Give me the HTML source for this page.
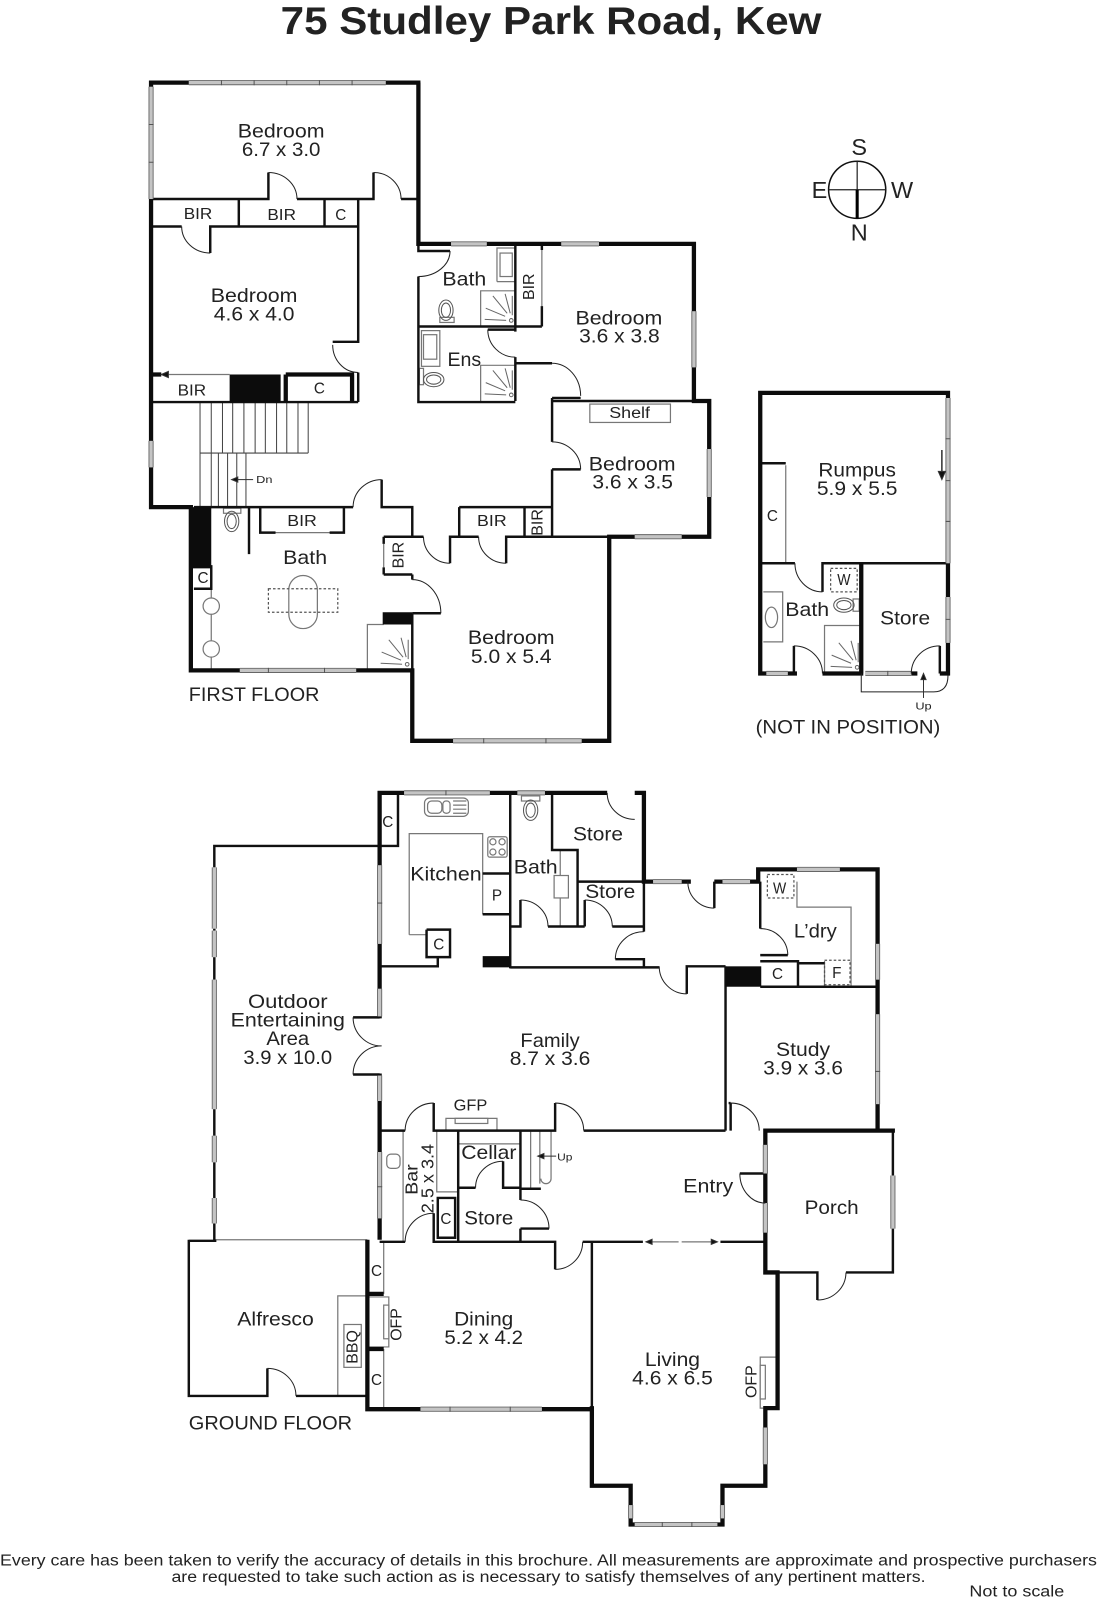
<!DOCTYPE html>
<html><head><meta charset="utf-8"><style>
html,body{margin:0;padding:0;background:#fff}
svg{display:block}
text{font-family:"Liberation Sans",sans-serif;fill:#222;dominant-baseline:central;text-anchor:middle;font-size:19px}
.s{font-size:15px}.t{font-size:10px}
.k{fill:none;stroke:#0c0c0c;stroke-width:4.2}
.m{fill:none;stroke:#111;stroke-width:2.4}
.d{fill:none;stroke:#222;stroke-width:1}
.g{fill:none;stroke:#777;stroke-width:1.2}
.st{fill:none;stroke:#444;stroke-width:1}
.ds{fill:none;stroke:#555;stroke-width:1.2;stroke-dasharray:2.5 2}
</style></head><body>
<svg width="1097" height="1600" viewBox="0 0 1075 1568" xmlns="http://www.w3.org/2000/svg">
<defs>
<g id="sh" fill="none" stroke="#666" stroke-width="1"><path d="M25 29L4 28M24 25L5 17M26 22L12 5M29 22L24 3M31 24V5"/><circle cx="30" cy="29" r="1.8"/></g>
<g id="to" fill="none" stroke="#555" stroke-width="1"><ellipse cx="0" cy="0" rx="7" ry="10"/><ellipse cx="0" cy="0" rx="4.5" ry="7"/></g>
<path id="win" d="M185 81H378M148 85V195M148 432V458M442 239H477M550 239H587M680 305V360M695 440V487M622 526H668M444 726H570M235 657H349M929 390V552M929 585V630M751 660H772M848 660H893M396 777H480M507 777H534M640 864H668M708 864H735M781 852H823M860 925V960M860 994V1082M372 848V925M372 969V996M372 1054V1079M372 1129V1194M210 850V910M210 912V938M210 960V1087M210 1113V1139M210 1174V1199M750 1122V1150M750 1179V1208M875 1152V1204M412 1381H531M750 1399V1435M622 1494H703M618 1475V1488M708 1475V1488"/>
</defs>
<rect width="1075" height="1568" fill="#fff"/>

<text x="540" y="21" textLength="530" lengthAdjust="spacingAndGlyphs" style="font-size:38px;font-weight:bold">75 Studley Park Road, Kew</text>

<!-- stairs -->
<path class="st" d="M196 394V497M207 394V497M218 394V444M228 394V444M239 394V444M250 394V444M260 394V444M271 394V444M281 394V444M292 394V444M302 394V444M196 444H302M214 444V497M223 444V497M232 444V497M241 444V497"/>

<!-- gray fixtures -->
<g class="g">
<path d="M487 276V243H505M487 276H505M471 320V285H505M471 393V358H505"/>
<rect x="490" y="248" width="12" height="23"/>
<rect x="413" y="324" width="18" height="35"/><rect x="415" y="328" width="13" height="24"/>
<path d="M531 245V300M376 533V556M541 499V524M158 367H225"/>
<rect x="578" y="396" width="79" height="18"/>
<path d="M255 522H338M207 577V657M360 657V612H376"/>
<circle cx="207" cy="594" r="8" fill="#fff"/><circle cx="207" cy="636" r="8" fill="#fff"/>
<rect x="283" y="564" width="28" height="52" rx="14"/>
<path d="M770 456V552M808 660V613H844M748 580H767V629H748"/><ellipse cx="756" cy="605" rx="6" ry="10"/>
<path d="M401 916V817H473V856M401 916H418"/>
<path d="M473 856V896"/>
<rect x="416" y="782" width="43" height="18" rx="5"/><rect x="419" y="785" width="14" height="12" rx="4"/><rect x="434" y="785" width="7" height="12" rx="3"/><path d="M444 785H457M444 789H457M444 793H457M444 797H457"/>
<rect x="478" y="820" width="19" height="20" rx="2"/><circle cx="483" cy="825" r="3"/><circle cx="492" cy="825" r="3"/><circle cx="483" cy="835" r="3"/><circle cx="492" cy="835" r="3"/>
<path d="M549 833V908M781 864V889H834V967M808 944V967"/><rect x="543" y="858" width="14" height="22" fill="#fff"/>
<path d="M395 1108V1217M428 1108V1168H449M449 1121H510M520 1108V1165M529 1108V1160M540 1108V1155a5 5 0 0 1 -10 0"/>
<rect x="379" y="1131" width="13" height="14" rx="4"/>
<path d="M210 1215H360M331 1368V1270H360M376 1218V1268M376 1322V1380"/>
<rect x="337" y="1298" width="17" height="42"/>
<path d="M361 1271H381V1320H361"/><rect x="376" y="1279" width="5" height="33" fill="#fff"/>
<path d="M762 1330H745V1380H762"/><rect x="745" y="1338" width="5" height="33" fill="#fff"/>
<path d="M437 1108V1096H487V1108"/><rect x="446" y="1096" width="32" height="5"/>
<path d="M633 1217H665M668 1217H700"/>
<rect x="219" y="498" width="17" height="5"/>
<rect x="511" y="780" width="18" height="5"/>
<rect x="836" y="587" width="6" height="12"/>
<rect x="431" y="311" width="14" height="5"/>
<rect x="411" y="361" width="4" height="16"/>
</g>
<use href="#sh" x="471" y="285"/><use href="#sh" x="471" y="358"/><use href="#sh" x="369" y="622"/><use href="#sh" x="810" y="625"/>
<use href="#to" x="437" y="304"/><use href="#to" x="227" y="511"/><use href="#to" x="520" y="794"/>
<g transform="translate(827 593) rotate(90)"><use href="#to"/></g>
<g transform="translate(425 372) rotate(90)"><use href="#to"/></g>

<!-- dashed -->
<rect class="ds" x="263" y="577" width="68" height="23"/><rect class="ds" x="814" y="557" width="26" height="23"/><rect class="ds" x="752" y="857" width="26" height="23"/><rect class="ds" x="808" y="941" width="25" height="24"/>

<!-- medium walls -->
<path class="m" d="M148 195H263V169M291 195H366V169M393 195H410M234 195V222M318 195V222M351 195V335H326M351 365V394M148 222H178M206 248V222H351M148 394H351
M410 239V246H441M410 271V394H505M410 320H531M505 239V325M478 323H505M505 350V393M531 239V245M531 300V320
M505 356H541M541 390H569M541 390V433M541 393H680M541 460H569M541 460V526
M190 497H346M374 470V497H404V526M404 563V568M404 601H432M404 601V657M244 497V543
M255 497V522H270M323 522H337V497M376 526H404M376 563H404M376 526V533M376 556V563
M450 497H541M450 497V526M514 497V526M404 526H415M441 552V526H469M496 552V526H597M190 555H207V577H190M207 555V577
M770 454H745M745 552H779M806 580V552H929M778 633V660M921 633V660
M372 829H210V850M210 910V912M210 938V960M210 1087V1113M210 1139V1174M210 1199V1215M390 779V829H372M473 856H500M473 896H500M500 777V949M541 777V833H566V908M500 908H510V882M537 908H573M573 882V908M600 908H631M566 864H631M631 864V913M603 940H631V949M500 948H646M673 974V947H711M711 947V1108M700 864V890
M418 911V938H441V911H418M372 947H429V938
M745 864V910M745 936H772M745 942H782V967M782 944H808M745 967H860
M716 1081V1108M714 1081H716M372 1108H397M425 1081V1108H544V1081M572 1108H711
M449 1108V1217M510 1108V1176M510 1204H538M510 1204V1217M449 1164H466M493 1138V1164H510M510 1165H530M372 1217H397M425 1189V1217H544V1244M571 1217H630M706 1217H750M580 1217V1380M429 1174H446V1213H429ZM185 1215V1368H262V1341M290 1368H360M185 1216H212
M875 1108V1247H829M801 1274V1247H752M725 1150H750M346 997H372M346 1053H372"/>

<!-- thick walls -->
<path class="k" d="M146 81H412M410 81V241M408 239H682M680 237V395M678 393H697M695 391V528M697 526H595M597 524V728M599 726H402M404 728V655M406 657H185M187 659V495M189 497H146M148 499V79
M743 385H931M745 383V662M929 383V662M743 660H781M806 660H846M844 552V660M893 660H899M921 660H931
M370 777H595M622 777H633M631 775V866M629 864H677M700 864H745M743 866V850M741 852H862M860 850V1110
M372 775V998M372 1052V1215M748 1108H877M750 1106V1249M748 1247H764M762 1245V1382M764 1380H748M750 1378V1458M752 1456H708M708 1454V1496M710 1494H616M618 1496V1454M620 1456H578M580 1458V1378M582 1381H358M360 1383V1215M358 1268H376M358 1322H376"/>
<rect x="225" y="367" width="50" height="27" fill="#0c0c0c"/>
<path class="k" d="M280 367V394M345 367V394M158 367H148M280 367H347"/>
<rect x="187" y="497" width="20" height="60" fill="#0c0c0c"/>
<rect x="375" y="600" width="29" height="12" fill="#0c0c0c"/>
<rect x="473" y="937" width="27" height="11" fill="#0c0c0c"/>
<rect x="711" y="947" width="35" height="20" fill="#0c0c0c"/>

<!-- windows -->
<use href="#win" fill="none" stroke="#666" stroke-width="5"/>
<use href="#win" fill="none" stroke="#c4c4c4" stroke-width="3.2"/>
<path fill="none" stroke="#555" stroke-width="1" d="M217 78.5V83.5M249 78.5V83.5M281 78.5V83.5M313 78.5V83.5M345 78.5V83.5M145.5 122H150.5M145.5 159H150.5M474 723.5V728.5M535 723.5V728.5M263 654.5V659.5M318 654.5V659.5M441 1378.5V1383.5M500 1378.5V1383.5M649 1491.5V1496.5M678 1491.5V1496.5M926.5 430H931.5M926.5 471H931.5M926.5 511H931.5M926.5 607H931.5M870 657.5V662.5M437 774.5V779.5M369.5 885H374.5M369.5 1163H374.5M857.5 1050H862.5"/>

<!-- door arcs -->
<g class="d">
<path d="M263 169A28 26 0 0 1 291 195M366 169A27 26 0 0 1 393 195M206 248A28 26 0 0 1 178 222M326 338A25 27 0 0 0 351 365M441 246A31 25 0 0 1 410 271M478 323A27 27 0 0 0 505 350M541 356A28 32 0 0 1 569 388M541 433A28 27 0 0 1 569 460M346 497A28 27 0 0 1 374 470M441 552A26 26 0 0 1 415 526M496 552A27 26 0 0 1 469 526M404 568A28 33 0 0 1 432 601"/>
<path d="M779 552A27 28 0 0 0 806 580M778 633A28 27 0 0 1 806 660M893 660A28 27 0 0 1 921 633"/>
<path d="M844 660V678H915Q929 678 929 662"/>
<path d="M595 777A27 26 0 0 0 622 803M674 864A26 26 0 0 0 700 890M745 910A27 26 0 0 1 772 936M631 913A28 27 0 0 0 603 940M510 882A27 26 0 0 1 537 908M573 882A27 26 0 0 1 600 908M646 947A27 27 0 0 0 673 974"/>
<path d="M346 997A28 28 0 0 0 374 1025M346 1053A28 28 0 0 1 374 1025"/>
<path d="M397 1108A28 27 0 0 1 425 1081M544 1081A28 27 0 0 1 572 1108M716 1081A28 27 0 0 1 744 1108M466 1164A27 26 0 0 1 493 1138M510 1176A28 28 0 0 1 538 1204M397 1217A28 28 0 0 1 425 1189M544 1244A27 27 0 0 0 571 1217M725 1150A25 29 0 0 0 750 1179M801 1274A28 27 0 0 0 829 1247M262 1341A28 27 0 0 1 290 1368"/>
</g>

<!-- arrows -->
<g fill="#111" stroke="#333" stroke-width="1">
<path d="M233 470H248" fill="none"/><path d="M227 470l6 -2.5v5z"/>
<path d="M905 684V666" fill="none"/><path d="M905 660l-2.5 6h5z"/>
<path d="M923 441V462" fill="none" stroke-width="1.5"/><path d="M923 470l-3.5 -8h7z"/>
<path d="M533 1133H545" fill="none"/><path d="M527 1133l6 -2.5v5z"/>
<path d="M158 367l7 -3v6z"/>
<path d="M633 1217l6 -2.5v5zM703 1217l-6 -2.5v5z"/>
</g>

<!-- compass -->
<circle cx="840" cy="186" r="28" fill="none" stroke="#111" stroke-width="1.5"/>
<path d="M812 186H868M840 158V186" stroke="#222" stroke-width="1.2"/>
<path d="M840 186V214" stroke="#000" stroke-width="3"/>
<text x="842" y="144" style="font-size:23px">S</text><text x="842" y="228" style="font-size:23px">N</text><text x="803" y="186" style="font-size:23px">E</text><text x="884" y="186" style="font-size:23px">W</text>

<!-- labels -->
<g transform="translate(0 1)">
<text x="275.5" y="128" textLength="85" lengthAdjust="spacingAndGlyphs">Bedroom</text><text x="275.5" y="146" textLength="77" lengthAdjust="spacingAndGlyphs">6.7 x 3.0</text>
<text x="194" y="209" textLength="28" lengthAdjust="spacingAndGlyphs" class="s">BIR</text><text x="276" y="210" textLength="28" lengthAdjust="spacingAndGlyphs" class="s">BIR</text><text x="334" y="210" class="s">C</text>
<text x="249" y="289" textLength="85" lengthAdjust="spacingAndGlyphs">Bedroom</text><text x="249" y="307" textLength="79" lengthAdjust="spacingAndGlyphs">4.6 x 4.0</text>
<text x="188" y="382" textLength="28" lengthAdjust="spacingAndGlyphs" class="s">BIR</text><text x="313" y="380" class="s">C</text>
<text x="455" y="273" textLength="43" lengthAdjust="spacingAndGlyphs">Bath</text><text x="455" y="352" textLength="33" lengthAdjust="spacingAndGlyphs">Ens</text>
<text transform="translate(519 280) rotate(-90)" textLength="26" lengthAdjust="spacingAndGlyphs" class="s">BIR</text>
<text x="606.5" y="311" textLength="85" lengthAdjust="spacingAndGlyphs">Bedroom</text><text x="607" y="329" textLength="79" lengthAdjust="spacingAndGlyphs">3.6 x 3.8</text>
<text x="617" y="404" textLength="40" lengthAdjust="spacingAndGlyphs" class="s">Shelf</text>
<text x="619.5" y="454" textLength="85" lengthAdjust="spacingAndGlyphs">Bedroom</text><text x="620" y="472" textLength="79" lengthAdjust="spacingAndGlyphs">3.6 x 3.5</text>
<text x="296" y="510" textLength="29" lengthAdjust="spacingAndGlyphs" class="s">BIR</text><text x="299" y="546" textLength="43" lengthAdjust="spacingAndGlyphs">Bath</text><text x="482" y="510" textLength="29" lengthAdjust="spacingAndGlyphs" class="s">BIR</text>
<text transform="translate(527 511) rotate(-90)" textLength="26" lengthAdjust="spacingAndGlyphs" class="s">BIR</text><text transform="translate(391 543) rotate(-90)" textLength="26" lengthAdjust="spacingAndGlyphs" class="s">BIR</text>
<text x="199" y="566" class="s">C</text>
<text x="259" y="470" class="t" textLength="16" lengthAdjust="spacingAndGlyphs">Dn</text>
<text x="501" y="624" textLength="85" lengthAdjust="spacingAndGlyphs">Bedroom</text><text x="501" y="643" textLength="79" lengthAdjust="spacingAndGlyphs">5.0 x 5.4</text>
<text x="249" y="680" textLength="128" lengthAdjust="spacingAndGlyphs">FIRST FLOOR</text>
<text x="840" y="460" textLength="76" lengthAdjust="spacingAndGlyphs">Rumpus</text><text x="840" y="478" textLength="79" lengthAdjust="spacingAndGlyphs">5.9 x 5.5</text>
<text x="757" y="505" class="s">C</text><text x="791" y="597" textLength="43" lengthAdjust="spacingAndGlyphs">Bath</text><text x="827" y="568" class="s" textLength="13" lengthAdjust="spacingAndGlyphs">W</text><text x="887" y="605" textLength="49" lengthAdjust="spacingAndGlyphs">Store</text>
<text x="905" y="692" class="t" textLength="16" lengthAdjust="spacingAndGlyphs">Up</text>
<text x="831" y="712" textLength="181" lengthAdjust="spacingAndGlyphs">(NOT IN POSITION)</text>
<text x="437" y="856" textLength="70" lengthAdjust="spacingAndGlyphs">Kitchen</text><text x="380" y="805" class="s">C</text><text x="487" y="877" class="s">P</text><text x="430" y="925" class="s">C</text>
<text x="525" y="849" textLength="43" lengthAdjust="spacingAndGlyphs">Bath</text><text x="586" y="817" textLength="49" lengthAdjust="spacingAndGlyphs">Store</text><text x="598" y="873" textLength="49" lengthAdjust="spacingAndGlyphs">Store</text>
<text x="764" y="870" class="s" textLength="13" lengthAdjust="spacingAndGlyphs">W</text><text x="799" y="912" textLength="42" lengthAdjust="spacingAndGlyphs">L’dry</text><text x="762" y="954" class="s">C</text><text x="820" y="953" class="s">F</text>
<text x="539" y="1019" textLength="58" lengthAdjust="spacingAndGlyphs">Family</text><text x="539" y="1037" textLength="79" lengthAdjust="spacingAndGlyphs">8.7 x 3.6</text>
<text x="787" y="1028" textLength="53" lengthAdjust="spacingAndGlyphs">Study</text><text x="787" y="1046" textLength="78" lengthAdjust="spacingAndGlyphs">3.9 x 3.6</text>
<text x="282" y="981" textLength="78" lengthAdjust="spacingAndGlyphs">Outdoor</text><text x="282" y="999" textLength="112" lengthAdjust="spacingAndGlyphs">Entertaining</text><text x="282" y="1017" textLength="42" lengthAdjust="spacingAndGlyphs">Area</text><text x="282" y="1036" textLength="87" lengthAdjust="spacingAndGlyphs">3.9 x 10.0</text>
<text x="461" y="1083" class="s" textLength="33" lengthAdjust="spacingAndGlyphs">GFP</text><text x="479" y="1129" textLength="54" lengthAdjust="spacingAndGlyphs">Cellar</text><text x="553.5" y="1134" class="t" textLength="15" lengthAdjust="spacingAndGlyphs">Up</text>
<text x="479" y="1193" textLength="48" lengthAdjust="spacingAndGlyphs">Store</text><text x="694" y="1162" textLength="49" lengthAdjust="spacingAndGlyphs">Entry</text><text x="815" y="1183" textLength="53" lengthAdjust="spacingAndGlyphs">Porch</text>
<text transform="translate(403 1155) rotate(-90)" textLength="30" lengthAdjust="spacingAndGlyphs" style="font-size:17px">Bar</text>
<text transform="translate(419 1154) rotate(-90)" textLength="68" lengthAdjust="spacingAndGlyphs" style="font-size:17px">2.5 x 3.4</text>
<text x="437" y="1194" class="s">C</text>
<text x="270" y="1292" textLength="75" lengthAdjust="spacingAndGlyphs">Alfresco</text><text x="474" y="1292" textLength="58" lengthAdjust="spacingAndGlyphs">Dining</text><text x="474" y="1310" textLength="77" lengthAdjust="spacingAndGlyphs">5.2 x 4.2</text>
<text x="659" y="1332" textLength="54" lengthAdjust="spacingAndGlyphs">Living</text><text x="659" y="1350" textLength="79" lengthAdjust="spacingAndGlyphs">4.6 x 6.5</text>
<text transform="translate(346 1319) rotate(-90)" textLength="33" lengthAdjust="spacingAndGlyphs" class="s">BBQ</text>
<text transform="translate(389 1297) rotate(-90)" textLength="32" lengthAdjust="spacingAndGlyphs" class="s">OFP</text>
<text transform="translate(737 1353) rotate(-90)" textLength="32" lengthAdjust="spacingAndGlyphs" class="s">OFP</text>
<text x="369" y="1245" class="s">C</text><text x="369" y="1352" class="s">C</text>
<text x="265" y="1394" textLength="160" lengthAdjust="spacingAndGlyphs">GROUND FLOOR</text>
<text x="537.5" y="1529" textLength="1075" lengthAdjust="spacingAndGlyphs" style="font-size:15px">Every care has been taken to verify the accuracy of details in this brochure.  All measurements are approximate and prospective purchasers</text>
<text x="537.5" y="1545" textLength="739" lengthAdjust="spacingAndGlyphs" style="font-size:15px">are requested to take such action as is necessary to satisfy themselves of any pertinent matters.</text>
<text x="996.5" y="1559" textLength="93" lengthAdjust="spacingAndGlyphs" style="font-size:15px">Not to scale</text>
</g>
</svg>
</body></html>
